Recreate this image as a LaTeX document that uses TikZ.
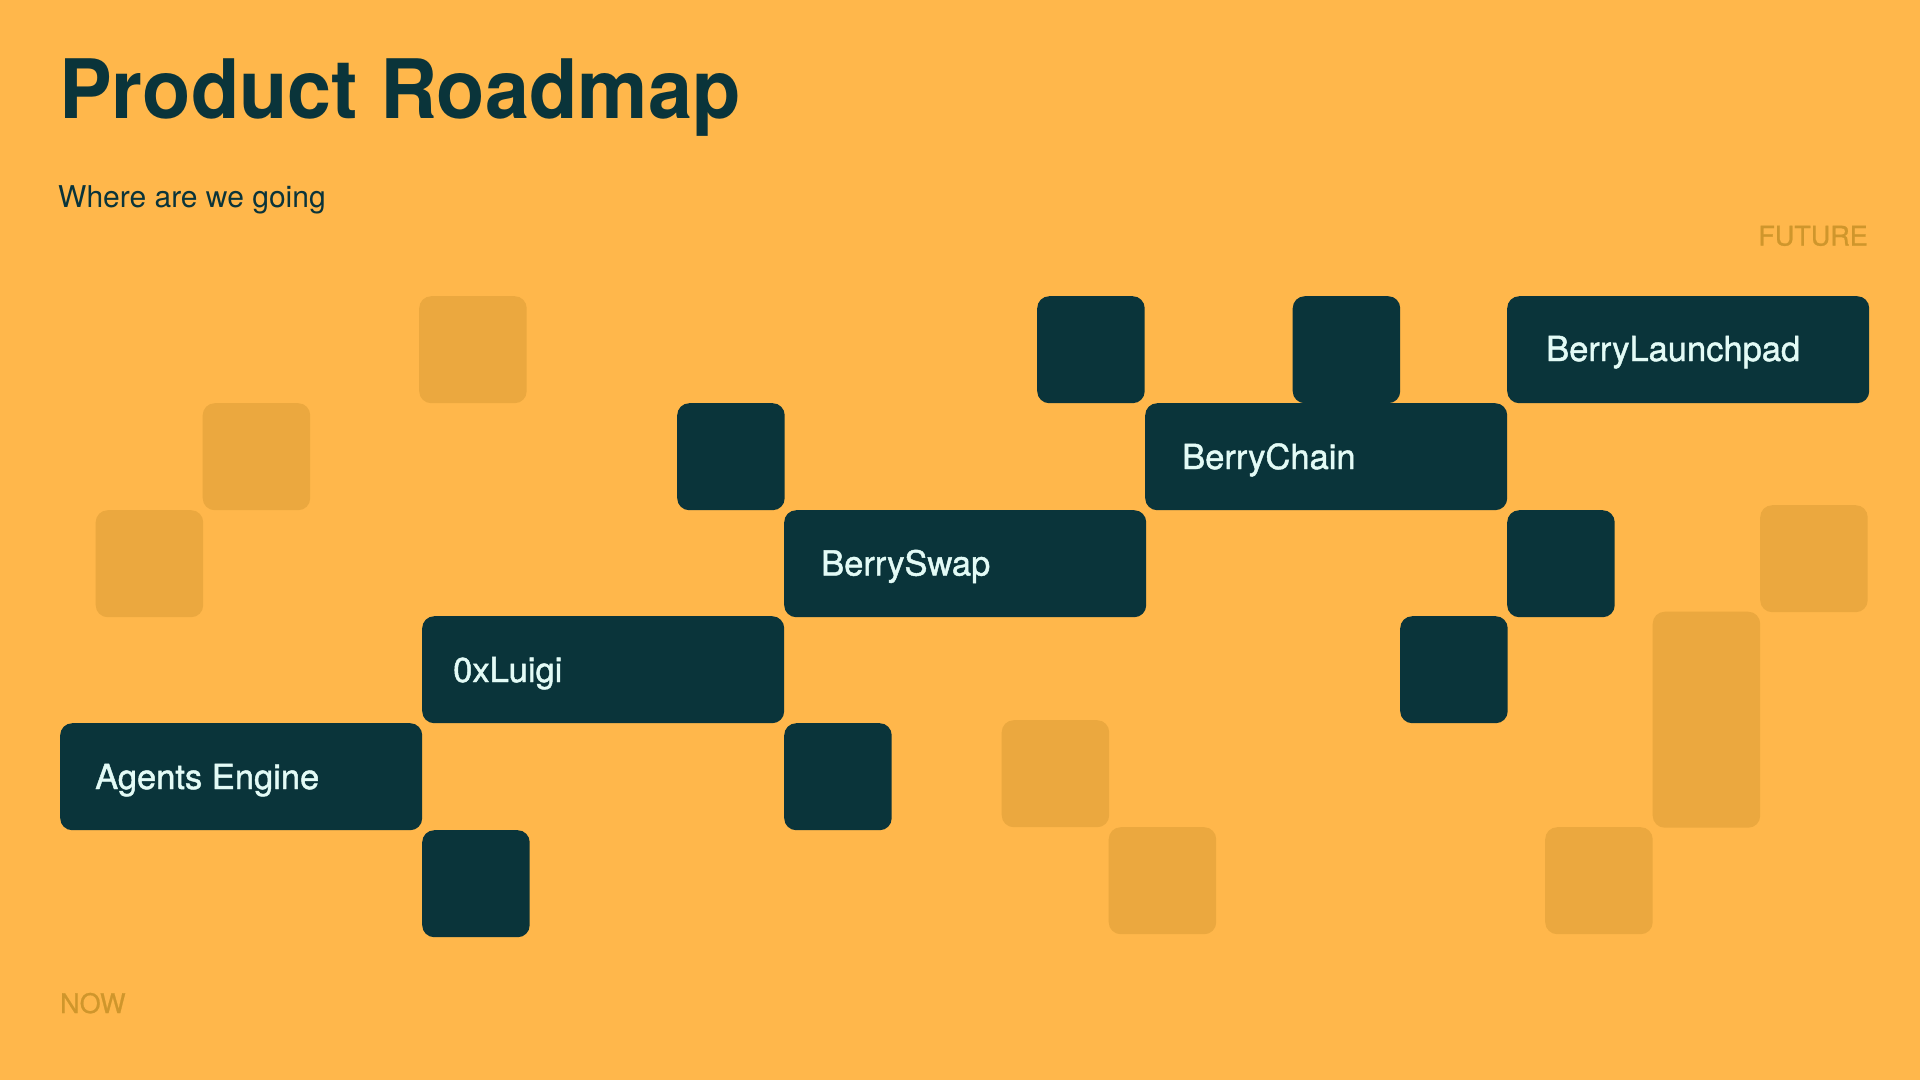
\documentclass[tikz,border=0pt]{standalone}
\usepackage{fontspec}
\setmainfont{TeX Gyre Heros}
\newfontfamily\boxfont[FakeBold=1.3]{TeX Gyre Heros}
\newfontfamily\edgefont[FakeBold=0.8]{TeX Gyre Heros}
\definecolor{bgc}{HTML}{FFB74B}
\definecolor{fadec}{HTML}{EBA83F}
\definecolor{darkc}{HTML}{0A343A}
\definecolor{lightc}{HTML}{E3FBF6}
\definecolor{labc}{HTML}{CF962C}
\begin{document}
\begin{tikzpicture}[x=1pt,y=-1pt,
  blk/.style={fill=darkc,draw=none,rounded corners=12pt,anchor=north west,inner sep=0pt,minimum height=107pt},
  wide/.style={blk,minimum width=362pt},
  sq/.style={blk,minimum width=107.5pt},
  fd/.style={fill=fadec,draw=none,rounded corners=12pt,anchor=north west,inner sep=0pt,minimum width=107.5pt,minimum height=107pt},
  lbl/.style={text=lightc,anchor=base west,inner sep=0pt,font=\boxfont\fontsize{34.5}{40}\selectfont},
  edge/.style={text=labc,inner sep=0pt,font=\edgefont\fontsize{27}{32}\selectfont}]
\fill[bgc] (0,0) rectangle (1920,1080);
\useasboundingbox (0,0) rectangle (1920,1080);
% faded squares
\node[fd] (f1) at (419,296) {};
\node[fd] (f2) at (202.5,403) {};
\node[fd] (f3) at (95.5,510) {};
\node[fd] (f4) at (1001.5,720) {};
\node[fd] (f5) at (1108.5,827) {};
\node[fd] (f6) at (1760,505) {};
\node[fd,minimum height=216pt] (f7) at (1652.5,611.5) {};
\node[fd] (f8) at (1545,827) {};
% dark blocks
\node[wide] (ae) at (60,723) {};
\node[sq] (s1) at (422,830) {};
\node[wide] (lu) at (422,616) {};
\node[sq] (s2) at (784,723) {};
\node[wide] (bs) at (784,510) {};
\node[sq] (s3) at (677,403) {};
\node[wide] (bc) at (1145,403) {};
\node[sq] (s4) at (1037,296) {};
\node[sq] (s5) at (1292.5,296) {};
\node[wide] (bl) at (1507,296) {};
\node[sq] (s6) at (1507,510) {};
\node[sq] (s7) at (1400,616) {};
% labels
\node[lbl] (tae) at (95,789) {Agents Engine};
\node[lbl] (tlu) at (453,682) {0xLuigi};
\node[lbl] (tbs) at (821,575.5) {BerrySwap};
\node[lbl] (tbc) at (1182,469) {BerryChain};
\node[lbl] (tbl) at (1546,361) {BerryLaunchpad};
% titles
\node[text=darkc,anchor=base west,inner sep=0pt,font=\bfseries\fontsize{82}{90}\selectfont] (title) at (59,118) {\scalebox{0.965}[1]{Product Roadmap}};
\node[text=darkc,anchor=base west,inner sep=0pt,font=\fontsize{30}{36}\selectfont] (sub) at (58,207) {Where are we going};
\node[edge,anchor=base east] (fut) at (1868,245.5) {FUTURE};
\node[edge,anchor=base west] (now) at (60,1013) {NOW};
\end{tikzpicture}
\end{document}
